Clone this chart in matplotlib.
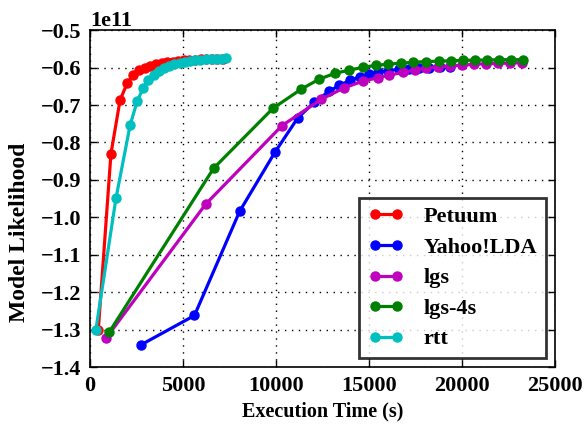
import matplotlib
matplotlib.use("Agg")
import matplotlib.pyplot as plt
import numpy as np

plt.rcParams['font.family'] = ['Liberation Serif', 'DejaVu Serif']
plt.rcParams['font.weight'] = 'bold'
plt.rcParams['axes.labelweight'] = 'bold'

petuum_x = [450, 1130, 1620, 2000, 2320, 2650, 2950, 3250, 3550, 3850, 4150, 4450,
            4750, 5050, 5350, 5650, 5950, 6250, 6550, 6850, 7150]
petuum_y = [-1.30, -0.83, -0.687, -0.642, -0.620, -0.607, -0.600, -0.595, -0.591, -0.588,
            -0.586, -0.584, -0.582, -0.581, -0.580, -0.579, -0.578, -0.578, -0.577, -0.577, -0.576]

yahoo_x = [2760, 5620, 8050, 9950, 11170, 12070, 12880, 13420, 14000, 14500, 15000, 15500,
           16050, 16600, 17150, 17700, 18250, 18800, 19350]
yahoo_y = [-1.340, -1.262, -0.984, -0.826, -0.735, -0.692, -0.663, -0.647, -0.634, -0.625,
           -0.618, -0.612, -0.608, -0.605, -0.603, -0.601, -0.600, -0.599, -0.598]

lgs_x = [860, 6220, 10330, 12430, 13680, 14700, 15510, 16110, 16810, 17460, 18050, 18700,
         19350, 20000, 20650, 21300, 21950, 22600, 23240]
lgs_y = [-1.323, -0.965, -0.755, -0.685, -0.654, -0.636, -0.627, -0.620, -0.613, -0.607,
         -0.602, -0.598, -0.596, -0.594, -0.591, -0.590, -0.589, -0.588, -0.587]

lgs4_x = [1030, 6650, 9840, 11350, 12330, 13200, 13950, 14700, 15400, 16050, 16750, 17400,
          18050, 18750, 19400, 20050, 20700, 21350, 22000, 22650, 23300]
lgs4_y = [-1.307, -0.869, -0.709, -0.658, -0.631, -0.615, -0.607, -0.599, -0.594, -0.591,
          -0.588, -0.586, -0.584, -0.583, -0.582, -0.581, -0.580, -0.580, -0.579, -0.579, -0.579]

rtt_x = [320, 1400, 2160, 2540, 2860, 3140, 3420, 3700, 3980, 4260, 4540, 4820, 5100,
         5380, 5660, 5940, 6220, 6500, 6780, 7060, 7300]
rtt_y = [-1.30, -0.949, -0.754, -0.690, -0.655, -0.634, -0.620, -0.610, -0.602, -0.596,
         -0.591, -0.587, -0.584, -0.582, -0.580, -0.579, -0.578, -0.577, -0.576, -0.576, -0.575]

x_ticks = [0, 5000, 10000, 15000, 20000, 25000]
y_ticks = [-1.4, -1.3, -1.2, -1.1, -1.0, -0.9, -0.8, -0.7, -0.6, -0.5]

fig = plt.figure(figsize=(5.84, 4.24), dpi=100)
ax = fig.add_axes([0.154, 0.134, 0.796, 0.795])

series = [
    ("Petuum", petuum_x, petuum_y, "#ff0000"),
    ("Yahoo!LDA", yahoo_x, yahoo_y, "#0000ff"),
    ("lgs", lgs_x, lgs_y, "#bf00bf"),
    ("lgs-4s", lgs4_x, lgs4_y, "#008000"),
    ("rtt", rtt_x, rtt_y, "#00bfbf"),
]
scale = 1e11
for name, xs, ys, c in series:
    ax.plot(xs, np.array(ys) * scale, color=c, lw=2.3, marker='o', ms=6.5,
            markeredgecolor=c, label=name)

ax.set_xlim(0, 25000)
ax.set_ylim(-1.4e11, -0.5e11)
ax.set_xticks(x_ticks)
ax.set_yticks([v * scale for v in y_ticks])
ax.grid(True, color='black', linestyle=(0, (1, 4)), linewidth=1)
ax.tick_params(direction='in', top=True, right=True, labelsize=16, length=5, width=1, pad=6)
for lab in ax.get_xticklabels() + ax.get_yticklabels():
    lab.set_fontweight('bold')
ax.yaxis.get_offset_text().set_fontsize(16)
ax.yaxis.get_offset_text().set_fontweight('bold')
for s in ax.spines.values():
    s.set_linewidth(1.2)

ax.set_xlabel("Execution Time (s)", fontsize=14.5, fontweight='bold')
ax.set_ylabel("Model Likelihood", fontsize=17, fontweight='bold')
ax.yaxis.set_label_coords(-0.13, 0.40)

leg = ax.legend(loc='lower right', numpoints=2, fontsize=16, frameon=True,
                fancybox=False, borderpad=0.4, labelspacing=0.45,
                handlelength=1.6, handletextpad=0.9, borderaxespad=0.4)
leg.get_frame().set_edgecolor('black')
leg.get_frame().set_linewidth(2)
for t in leg.get_texts():
    t.set_fontweight('bold')

fig.savefig("out.png", dpi=100)
